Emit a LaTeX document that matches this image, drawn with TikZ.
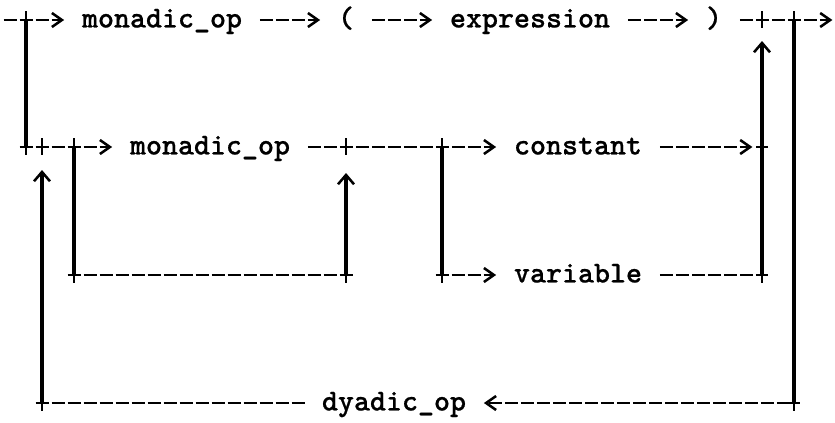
\documentclass[tikz,border=0pt]{standalone}
\usepackage{fontspec}
\newfontfamily\twfont[FakeBold=0.6]{lmmonolt10-bold.otf}
\usetikzlibrary{arrows.meta}
\begin{document}
\begin{tikzpicture}[x=0.75pt,y=-0.75pt,
  lbl/.style={font=\twfont\fontsize{22.86pt}{26pt}\selectfont,
    inner xsep=12pt, inner ysep=0pt, text height=14pt, text depth=2.8pt, anchor=center},
  hline/.style={line width=1.9pt, dash pattern=on 9.75pt off 2.25pt, dash phase=10.875pt},
  vline/.style={line width=2.3pt},
  rtip/.style={-{Straight Barb[length=7.5pt,width=10.5pt,line width=1.9pt]}, shorten >=1.2pt},
  ltip/.style={{Straight Barb[length=7.5pt,width=10.5pt,line width=1.9pt]}-, shorten <=1.2pt},
  uptip/.style={-{Straight Barb[length=7pt,width=12pt,line width=1.9pt]}},
  plusmark/.style={line width=1.8pt}
]
\fill[white] (0,0) rectangle (835,422);
\useasboundingbox (0,0) rectangle (835,422);

% labels
\node[lbl] (m1) at (162,20) {monadic\_op};
\node[lbl] (lp) at (346,20) {(};
\node[lbl] (ex) at (530,20) {expression};
\node[lbl] (rp) at (714,20) {)};
\node[lbl] (m2) at (210,147) {monadic\_op};
\node[lbl] (co) at (578,147) {constant};
\node[lbl] (va) at (578,275) {variable};
\node[lbl] (dy) at (394,403) {dyadic\_op};

% junctions and free ends
\coordinate (s)   at (2,20);
\coordinate (t1)  at (26,20);
\coordinate (t47) at (762,20);
\coordinate (t49) at (794,20);
\coordinate (e)   at (834,20);
\coordinate (r2s) at (18,147);
\coordinate (b1)  at (26,147);
\coordinate (b2)  at (42,147);
\coordinate (b4)  at (74,147);
\coordinate (b21) at (346,147);
\coordinate (b27) at (442,147);
\coordinate (b47) at (762,147);
\coordinate (cE)  at (754,147);
\coordinate (c4)  at (74,275);
\coordinate (c21) at (346,275);
\coordinate (c27) at (442,275);
\coordinate (c47) at (762,275);
\coordinate (cL)  at (66,275);
\coordinate (cR)  at (354,275);
\coordinate (vS)  at (434,275);
\coordinate (vE)  at (766,275);
\coordinate (d2)  at (42,403);
\coordinate (d49) at (794,403);
\coordinate (dL)  at (34,403);
\coordinate (dR)  at (800,403);
\coordinate (u2)  at (42,170);
\coordinate (u21) at (346,173);
\coordinate (u47) at (762,41);

% horizontal connectors
\draw[hline,rtip] (s) -- (m1.west);
\draw[hline,rtip] (m1.east) -- (lp.west);
\draw[hline,rtip] (lp.east) -- (ex.west);
\draw[hline,rtip] (ex.east) -- (rp.west);
\draw[hline,rtip] (rp.east) -- (e);
\draw[hline,rtip] (r2s) -- (m2.west);
\draw[hline,rtip] (m2.east) -- (co.west);
\draw[hline,rtip] (co.east) -- (cE);
\draw[hline] (cL) -- (cR);
\draw[hline,rtip] (vS) -- (va.west);
\draw[hline] (va.east) -- (vE);
\draw[hline] (dL) -- (dy.west);
\draw[hline,ltip] (dy.east) -- (dR);

% vertical connectors
\draw[vline] (t1) -- (b1);
\draw[vline,uptip] (d2) -- (u2);
\draw[vline] (b4) -- (c4);
\draw[vline,uptip] (c21) -- (u21);
\draw[vline] (b27) -- (c27);
\draw[vline,uptip] (c47) -- (u47);
\draw[vline] (t49) -- (d49);

% plus marks at junctions
\foreach \p in {t1,t47,t49,b1,b2,b4,b21,b27,b47,c4,c21,c27,c47,d2,d49}
  \draw[plusmark] (\p) +(-6,0) -- +(6,0) (\p) +(0,-9) -- +(0,8);
\end{tikzpicture}
\end{document}
